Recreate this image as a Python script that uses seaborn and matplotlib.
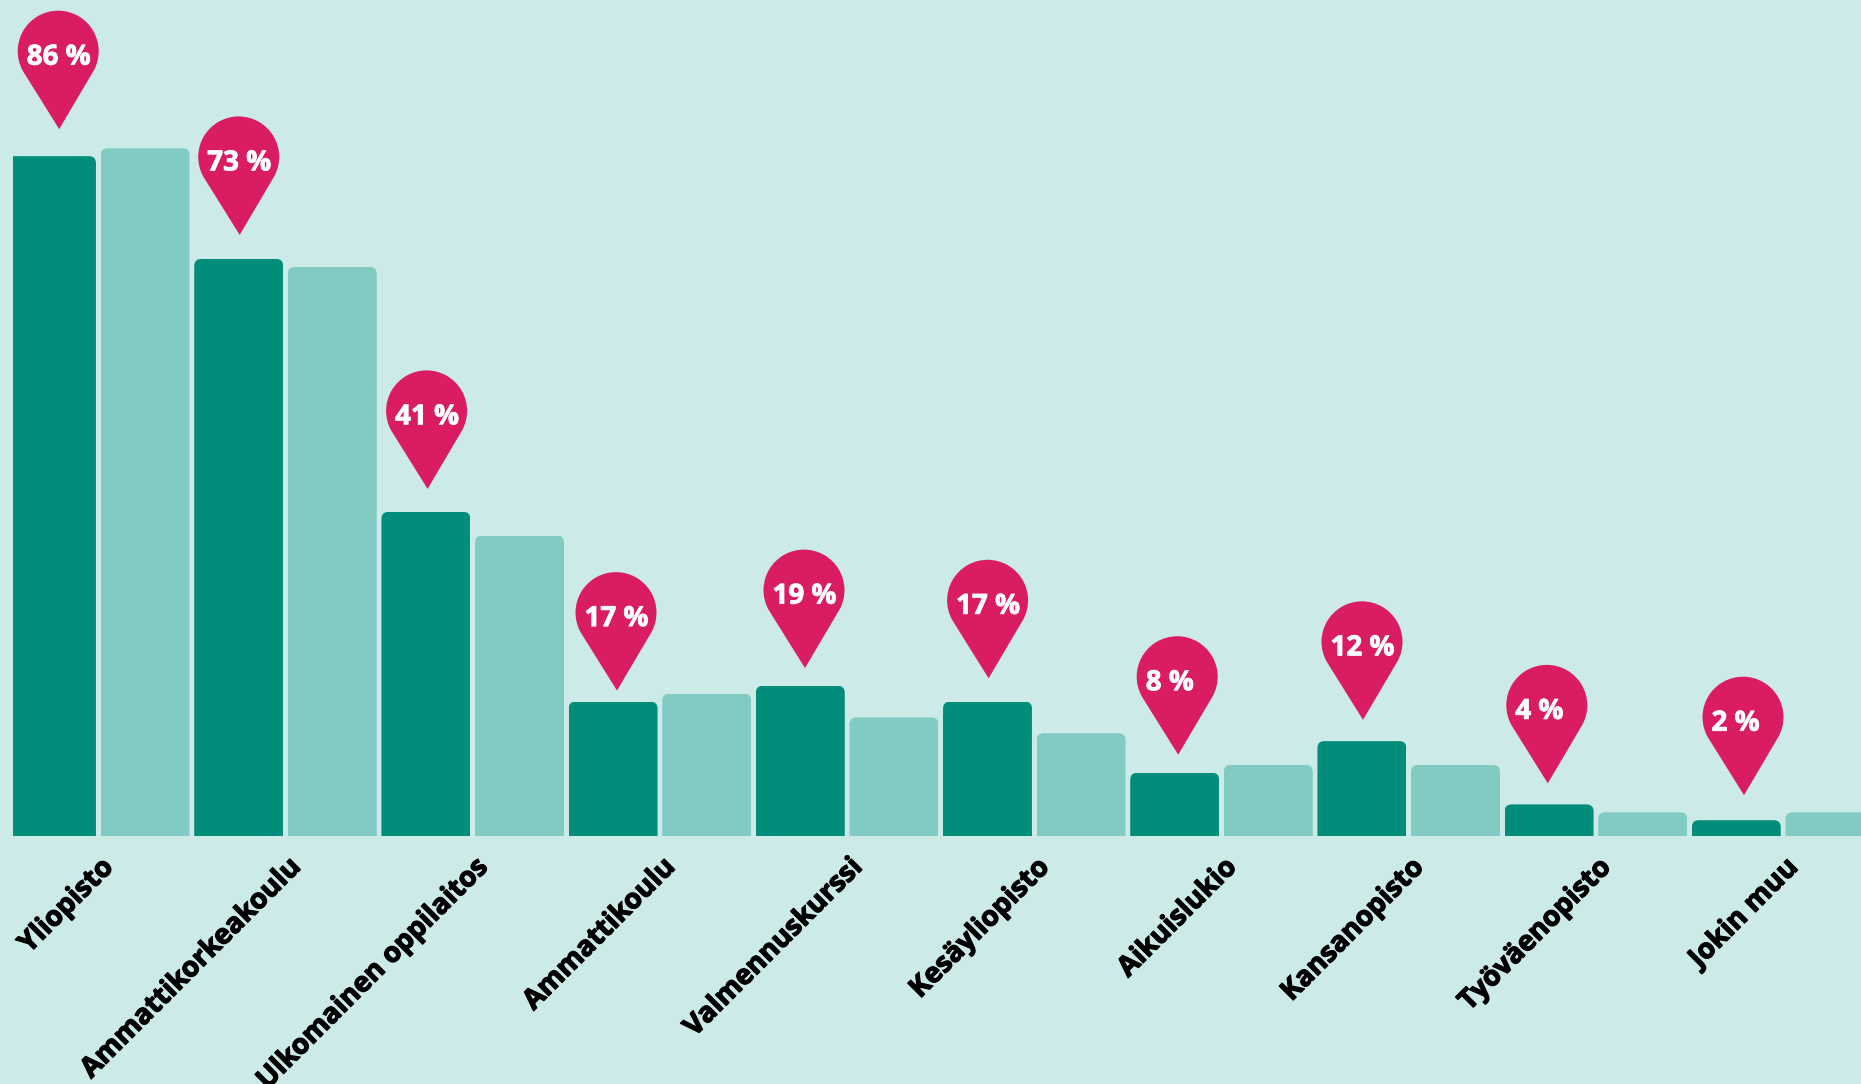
import matplotlib
matplotlib.use("Agg")
import matplotlib.pyplot as plt
import matplotlib.patheffects as pe
import numpy as np
import pandas as pd
import seaborn as sns
from matplotlib.patches import FancyBboxPatch, PathPatch
from matplotlib.path import Path
from matplotlib.transforms import Affine2D, IdentityTransform, ScaledTranslation

categories = ["Yliopisto", "Ammattikorkeakoulu", "Ulkomainen oppilaitos", "Ammattikoulu",
              "Valmennuskurssi", "Kesäyliopisto", "Aikuislukio", "Kansanopisto",
              "Työväenopisto", "Jokin muu"]
main_values = [86, 73, 41, 17, 19, 17, 8, 12, 4, 2]
comparison_values = [87, 72, 38, 18, 15, 13, 9, 9, 3, 3]
pin_labels = ["86 %", "73 %", "41 %", "17 %", "19 %", "17 %", "8 %", "12 %", "4 %", "2 %"]

# small manual placement of the callout pins, in pixels relative to each bar's top centre
pin_dx = [7.7, 1, 1.7, 3.9, 4.7, 1.1, 3.5, 1.1, -1.3, 7.7]
pin_dy = [27, 24, 23, 11, 17.7, 23.3, 18, 21.3, 21, 25]

BG, DARK, LIGHT, PINK = "#CCEAE7", "#028C7A", "#81CBC3", "#DA1C62"
W, H = 1861, 1084
BASE_Y, PX_PER_PCT = 836, 7.905
LEFT_PX, GROUP_PX, FIRST_CENTER_PX = 13, 187.2, 98.3
FONT = "Open Sans"

sns.set_theme(style="white")
fig = plt.figure(figsize=(W / 100, H / 100), dpi=100, facecolor=BG)
ax = fig.add_axes([LEFT_PX / W, (H - BASE_Y) / H, (W - LEFT_PX) / W, BASE_Y / H])
ax.set_facecolor(BG)

df = pd.DataFrame({
    "category": categories * 2,
    "value": main_values + comparison_values,
    "series": ["main"] * len(categories) + ["comparison"] * len(categories),
})
sns.barplot(data=df, x="category", y="value", hue="series", order=categories,
            hue_order=["main", "comparison"], palette=[DARK, LIGHT],
            width=1.0, gap=0.05, legend=False, saturation=1, linewidth=0, edgecolor="none", ax=ax)

ax.set_xlim((LEFT_PX - FIRST_CENTER_PX) / GROUP_PX, (W - FIRST_CENTER_PX) / GROUP_PX)
ax.set_ylim(0, BASE_Y / PX_PER_PCT)
ax.set_xlabel("")
ax.set_ylabel("")
ax.set_yticks([])
sns.despine(ax=ax, left=True, bottom=True, top=True, right=True)
ax.tick_params(axis="x", length=0, pad=0)
ax.set_xticks(range(len(categories)))
ax.set_xticklabels(categories, rotation=45, ha="right", va="top", rotation_mode="anchor",
                   fontsize=20, fontweight="bold", fontfamily=FONT, color="black")
shift = ScaledTranslation(0.5 / 100, -17 / 100, fig.dpi_scale_trans)
for lab in ax.get_xticklabels():
    lab.set_transform(lab.get_transform() + shift)
    lab.set_path_effects([pe.withStroke(linewidth=0.9, foreground="black")])

fig.canvas.draw()

# round the top corners of the bars
for bar in ax.patches:
    (x0, y0), (x1, y1) = ax.transData.transform([(bar.get_x(), 0),
                                                 (bar.get_x() + bar.get_width(), bar.get_height())])
    clip = FancyBboxPatch((x0, y0 - 30), x1 - x0, y1 - y0 + 30,
                          boxstyle="round,pad=0,rounding_size=7", transform=IdentityTransform())
    bar.set_clip_path(clip)

# callout pin geometry, tip at origin (pixels, y up)
R = 40.5
CY = 78
arc = Path.arc(-29, 209)
verts = arc.vertices * R + np.array([-1, CY])
pin_verts = np.vstack([verts, [[0, 0], [0, 0]]])
pin_codes = np.concatenate([arc.codes, [Path.LINETO, Path.CLOSEPOLY]])
pin_path = Path(pin_verts, pin_codes)

for i, (v, lab, dx, dy) in enumerate(zip(main_values, pin_labels, pin_dx, pin_dy)):
    bar = ax.patches[i]
    tx, ty = ax.transData.transform((i - 0.25, bar.get_height()))
    tx += dx
    ty += dy
    ax.add_patch(PathPatch(pin_path, facecolor=PINK, edgecolor="none",
                           transform=Affine2D().translate(tx, ty), clip_on=False, zorder=5))
    ax.text(tx - 1 - R + 9, ty + CY - 6, lab, transform=IdentityTransform(), ha="left", va="center",
            color="white", fontsize=20, fontweight="bold", fontfamily=FONT, zorder=6,
            path_effects=[pe.withStroke(linewidth=0.6, foreground="white")])

fig.savefig("out.png", dpi=100, facecolor=BG)
